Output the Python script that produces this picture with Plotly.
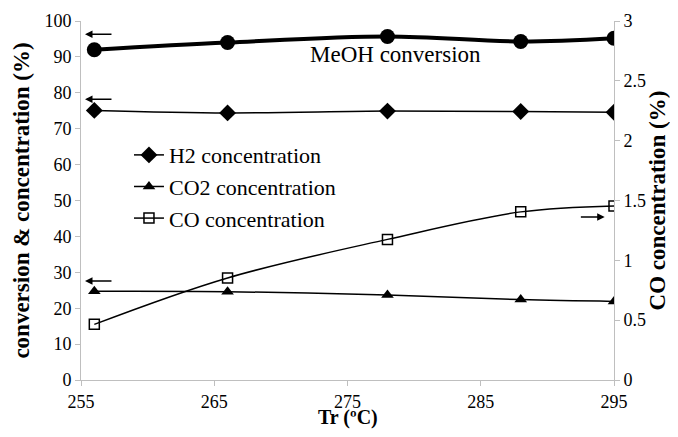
import plotly.graph_objects as go

tr = [256, 266, 278, 288, 295]
meoh_conv = [92.0, 94.0, 95.7, 94.3, 95.2]
h2_conc = [75.1, 74.4, 74.9, 74.8, 74.6]
co2_conc = [24.7, 24.6, 23.7, 22.4, 21.9]
co_conc = [0.465, 0.853, 1.175, 1.405, 1.455]

x_ticks = [255, 265, 275, 285, 295]
y_ticks = [0, 10, 20, 30, 40, 50, 60, 70, 80, 90, 100]
y2_ticks = [0, 0.5, 1, 1.5, 2, 2.5, 3]
y2_ticktext = ["0", "0.5", "1", "1.5", "2", "2.5", "3"]

FONT = "Liberation Serif"
AX = "#bfbfbf"

fig = go.Figure()
fig.add_trace(go.Scatter(x=tr, y=meoh_conv, mode="lines+markers", name="MeOH conversion",
                         showlegend=False, line=dict(color="black", width=4, shape="spline"),
                         marker=dict(symbol="circle", size=15, color="black")))
fig.add_trace(go.Scatter(x=tr, y=h2_conc, mode="lines+markers", name="H2 concentration",
                         line=dict(color="black", width=1.5, shape="spline"),
                         marker=dict(symbol="diamond", size=13, color="black")))
fig.add_trace(go.Scatter(x=tr, y=co2_conc, mode="lines+markers", name="CO2 concentration",
                         line=dict(color="black", width=1.5, shape="spline"),
                         marker=dict(symbol="triangle-up", size=11, color="black")))
fig.add_trace(go.Scatter(x=tr, y=co_conc, mode="lines+markers", name="CO concentration",
                         yaxis="y2",
                         line=dict(color="black", width=1.5, shape="spline"),
                         marker=dict(symbol="square-open", size=10, color="black",
                                     line=dict(width=1.5, color="black"))))

anns = []
for (x0, x1, yv) in [(257.4, 255.3, 96.3), (257.4, 255.3, 78.2), (257.4, 255.3, 27.6), (292.4, 294.3, 45.4)]:
    anns.append(dict(x=x1, y=yv, ax=x0, ay=yv, xref="x", yref="y", axref="x", ayref="y",
                     showarrow=True, arrowhead=2, arrowsize=1, arrowwidth=1.5,
                     arrowcolor="black", text=""))
anns.append(dict(x=278.6, y=90.7, xref="x", yref="y", text="MeOH conversion", showarrow=False,
                 font=dict(family=FONT, size=23, color="black"), xanchor="center", yanchor="middle"))
anns.append(dict(x=0.5, y=-0.105, xref="paper", yref="paper", text="<b>Tr (ºC)</b>", showarrow=False,
                 font=dict(family=FONT, size=20, color="black"), xanchor="center", yanchor="middle"))

fig.update_layout(
    width=662, height=421,
    margin=dict(l=73, r=56, t=13, b=49, autoexpand=False),
    paper_bgcolor="white", plot_bgcolor="white",
    font=dict(family=FONT, size=18, color="black"),
    showlegend=True,
    legend=dict(x=0.09, y=0.685, xanchor="left", yanchor="top",
                bgcolor="rgba(0,0,0,0)", font=dict(family=FONT, size=22, color="black"),
                tracegroupgap=0, itemwidth=30),
    xaxis=dict(range=[255, 295], tickvals=x_ticks, showgrid=False, zeroline=False,
               showline=True, linecolor=AX, linewidth=1, ticks="outside", ticklen=5,
               tickcolor=AX, tickfont=dict(family=FONT, size=18), automargin=False),
    yaxis=dict(range=[0, 100], tickvals=y_ticks, showgrid=False, zeroline=False,
               showline=True, linecolor=AX, linewidth=1, ticks="outside", ticklen=5,
               tickcolor=AX, tickfont=dict(family=FONT, size=18), automargin=False,
               title=dict(text="<b>conversion &amp; concentration (%)</b>",
                          font=dict(family=FONT, size=23), standoff=8)),
    yaxis2=dict(range=[0, 3], tickvals=y2_ticks, ticktext=y2_ticktext, overlaying="y",
                side="right", showgrid=False, zeroline=False, automargin=False,
                showline=True, linecolor=AX, linewidth=1, ticks="outside", ticklen=5,
                tickcolor=AX, tickfont=dict(family=FONT, size=18),
                title=dict(text="<b>CO concentration (%)</b>",
                           font=dict(family=FONT, size=23), standoff=2)),
    annotations=anns,
)

fig.write_html("out.html")
